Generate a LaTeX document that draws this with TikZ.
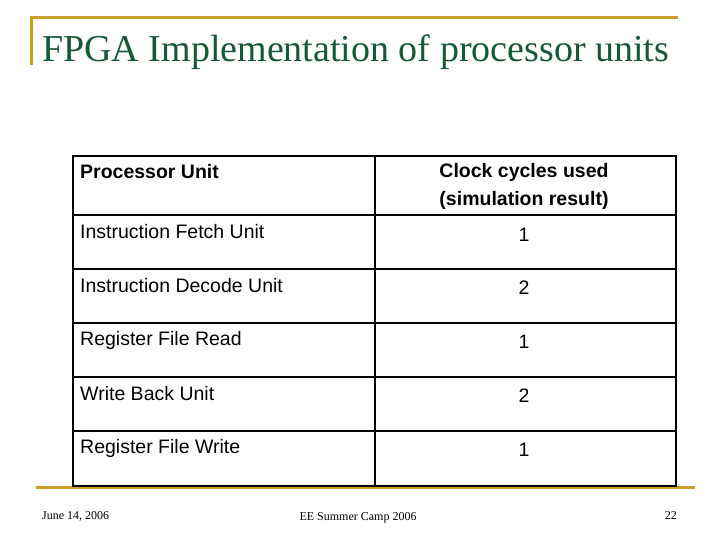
\documentclass[tikz,border=0pt]{standalone}
\usepackage{fontspec}
\setmainfont{Liberation Serif}
\setsansfont{Liberation Sans}
\definecolor{gold}{RGB}{200,160,40}
\definecolor{titlegreen}{RGB}{20,90,55}
\begin{document}
\begin{tikzpicture}[x=1pt,y=-1pt,
  cell/.style={font=\sffamily\fontsize{19.5}{22}\selectfont,inner sep=0pt},
  hcell/.style={font=\sffamily\bfseries\fontsize{19.5}{22}\selectfont,inner sep=0pt},
  foot/.style={font=\fontsize{12}{14}\selectfont,inner sep=0pt}]
\useasboundingbox (0,0) rectangle (720,540);
\fill[white] (0,0) rectangle (720,540);
\draw[gold,line width=3pt] (30,18) -- (678,18);
\draw[gold,line width=3pt] (31,17) -- (31,65);
\draw[gold,line width=3pt] (36,487) -- (695,487);
\node[anchor=base west,text=titlegreen,font=\fontsize{38}{42}\selectfont,inner sep=0pt] (title) at (42,62) {FPGA Implementation of processor units};
% table
\fill[white] (73,156) rectangle (676,486);
\foreach \yy in {215,269,323,377,431} \draw[line width=1.2pt] (73,\yy) -- (676,\yy);
\draw[line width=1.2pt] (375,156) -- (375,486);
\draw[line width=1.8pt] (73,156) rectangle (676,486);
\node[hcell,anchor=west] (h1) at (80,172) {Processor Unit};
\node[hcell] (h2a) at (524,172) {Clock cycles used};
\node[hcell] (h2b) at (524,200) {(simulation result)};
\node[cell,anchor=west] (r1) at (80,232) {Instruction Fetch Unit};
\node[cell,anchor=west] (r2) at (80,286) {Instruction Decode Unit};
\node[cell,anchor=west] (r3) at (80,340) {Register File Read};
\node[cell,anchor=west] (r4) at (80,394) {Write Back Unit};
\node[cell,anchor=west] (r5) at (80,448) {Register File Write};
\node[cell] (v1) at (524,235) {1};
\node[cell] (v2) at (524,288) {2};
\node[cell] (v3) at (524,342) {1};
\node[cell] (v4) at (524,396) {2};
\node[cell] (v5) at (524,450) {1};
\node[foot,anchor=west] (f1) at (42,516) {June 14, 2006};
\node[foot] (f2) at (358,518) {EE Summer Camp 2006};
\node[foot,anchor=east] (f3) at (677,516) {22};
\end{tikzpicture}
\end{document}
